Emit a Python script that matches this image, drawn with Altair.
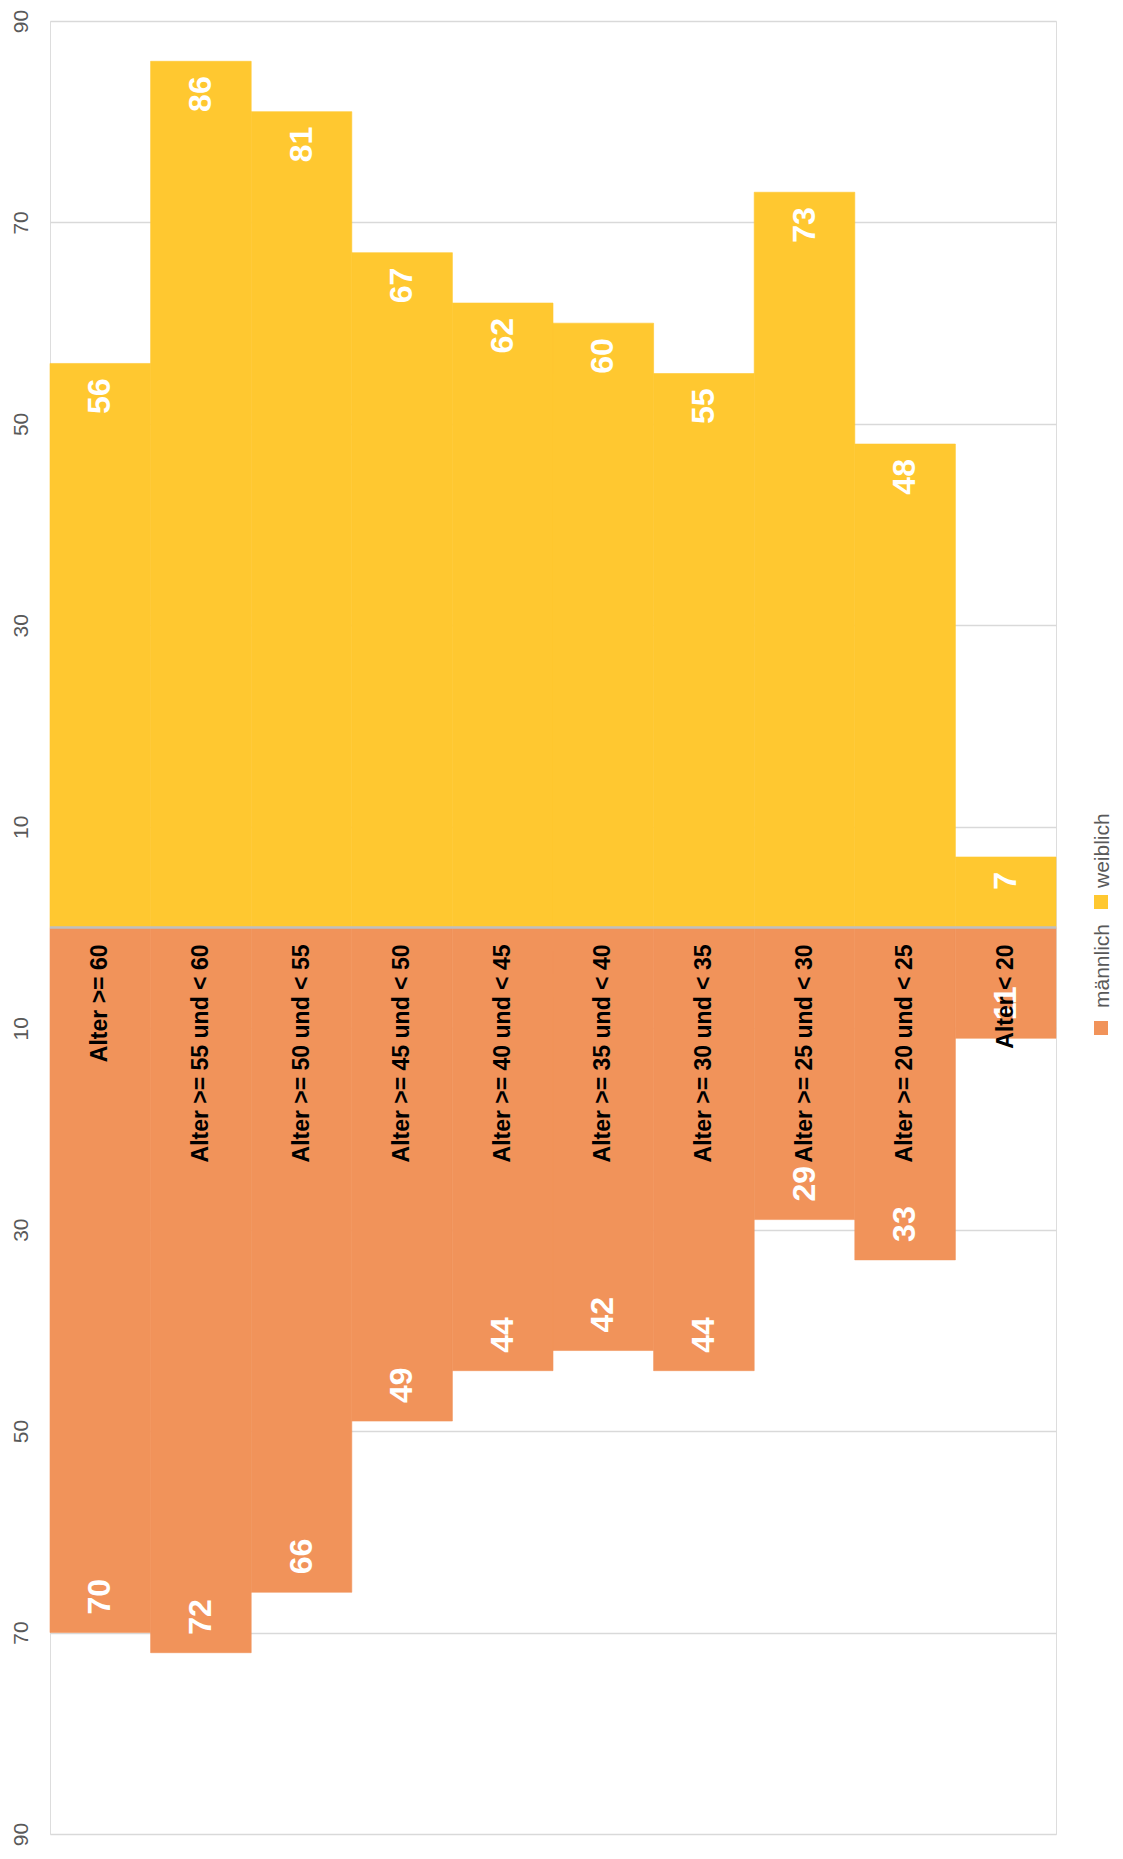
import altair as alt
import pandas as pd

categories = [
    "Alter >= 60",
    "Alter >= 55 und < 60",
    "Alter >= 50 und < 55",
    "Alter >= 45 und < 50",
    "Alter >= 40 und < 45",
    "Alter >= 35 und < 40",
    "Alter >= 30 und < 35",
    "Alter >= 25 und < 30",
    "Alter >= 20 und < 25",
    "Alter < 20",
]
weiblich = [56, 86, 81, 67, 62, 60, 55, 73, 48, 7]
maennlich = [70, 72, 66, 49, 44, 42, 44, 29, 33, 11]
series_names = ["männlich", "weiblich"]
tick_values = [-90, -70, -50, -30, -10, 10, 30, 50, 70, 90]

ORANGE = "#F1935A"
YELLOW = "#FFC830"
FONT = "Liberation Sans"

rows = []
for c, w, m in zip(categories, weiblich, maennlich):
    rows.append({"Alter": c, "Geschlecht": "weiblich", "Anzahl": w, "wert": w})
    rows.append({"Alter": c, "Geschlecht": "männlich", "Anzahl": m, "wert": -m})
df = pd.DataFrame(rows)
cat_df = pd.DataFrame({"Alter": categories, "null": [0] * len(categories)})

x_enc = alt.X("Alter:N", sort=categories,
              scale=alt.Scale(paddingInner=0, paddingOuter=0), axis=None)
color_scale = alt.Scale(domain=series_names, range=[ORANGE, YELLOW])
y_scale = alt.Scale(domain=[-90, 90], nice=False, zero=False)

base = alt.Chart(df)

bars = base.mark_bar(strokeWidth=0.6).encode(
    x=x_enc,
    y=alt.Y("wert:Q", scale=y_scale,
            axis=alt.Axis(values=tick_values, labelExpr="abs(datum.value)",
                          labelAngle=270, labelAlign="center", labelBaseline="bottom",
                          grid=True, gridColor="#D9D9D9", gridWidth=1.3,
                          domain=False, ticks=False, labelFontSize=21,
                          labelColor="#595959", labelFont=FONT, labelPadding=19,
                          title=None)),
    color=alt.Color("Geschlecht:N", scale=color_scale, legend=None),
    stroke=alt.Stroke("Geschlecht:N", scale=color_scale, legend=None),
)

zero_rule = alt.Chart(pd.DataFrame({"null": [0]})).mark_rule(
    color="#BFBFBF", strokeWidth=2.5).encode(y=alt.Y("null:Q", scale=y_scale))

# note: with angle 270, dx runs along the text (screen upward)
w_labels = base.transform_filter(alt.datum.Geschlecht == "weiblich").mark_text(
    angle=270, align="right", baseline="middle", dx=-15, fontSize=32,
    fontWeight="bold", color="white", font=FONT).encode(
    x=x_enc, y=alt.Y("wert:Q", scale=y_scale), text="Anzahl:Q")

m_labels = base.transform_filter(alt.datum.Geschlecht == "männlich").mark_text(
    angle=270, align="left", baseline="middle", dx=18, fontSize=32,
    fontWeight="bold", color="white", font=FONT).encode(
    x=x_enc, y=alt.Y("wert:Q", scale=y_scale), text="Anzahl:Q")

cat_labels = alt.Chart(cat_df).mark_text(
    angle=270, align="right", baseline="middle", dx=-17, fontSize=23,
    fontWeight="bold", color="black", font=FONT).encode(
    x=x_enc, y=alt.Y("null:Q", scale=y_scale), text="Alter:N")

# rotated legend (right side), reads bottom to top
legend_layers = []
legend_pos = {"männlich": (1051, 1059, 1007, 987), "weiblich": (1051, 1059, 881, 867)}
leg_df = pd.DataFrame({"name": series_names})
for name, colr in zip(series_names, [ORANGE, YELLOW]):
    sx, tx, sy, ty = legend_pos[name]
    one = alt.Chart(leg_df).transform_filter(alt.datum.name == name)
    legend_layers.append(one.mark_square(size=196, opacity=1, color=colr).encode(
        x=alt.value(sx), y=alt.value(sy)))
    legend_layers.append(one.mark_text(angle=270, align="left", baseline="alphabetic",
                                       fontSize=21, color="#595959", font=FONT).encode(
        x=alt.value(tx), y=alt.value(ty), text="name:N"))

chart = alt.layer(bars, zero_rule, w_labels, m_labels, cat_labels, *legend_layers).properties(
    width=1006, height=1813,
    autosize=alt.AutoSizeParams(type="none"),
    padding={"left": 42, "top": 13, "right": 59, "bottom": 13},
).configure_view(stroke=None).configure(background="white")

chart.save("out.html", embed_options={"renderer": "svg", "actions": False})
